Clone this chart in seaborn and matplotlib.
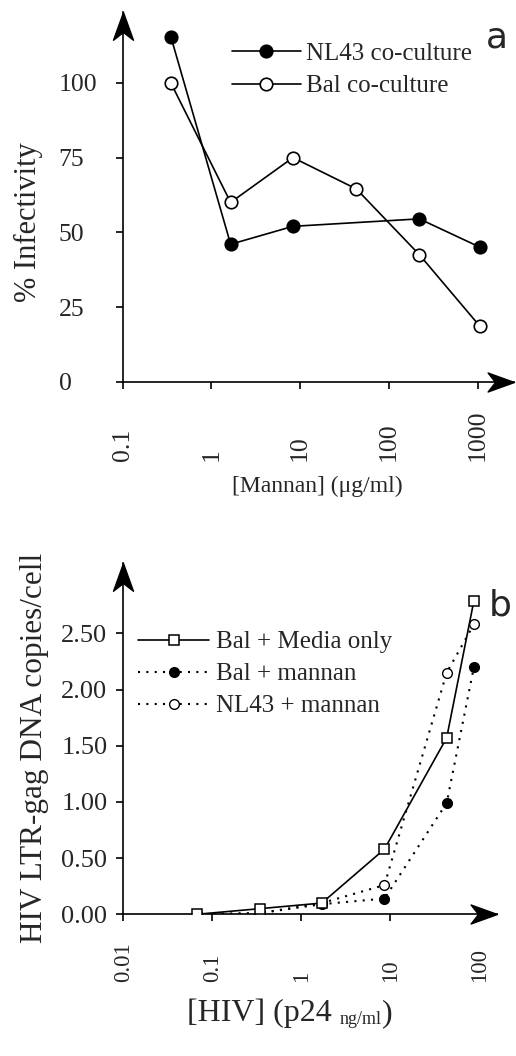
import numpy as np
import pandas as pd
import matplotlib
matplotlib.use("Agg")
import matplotlib.pyplot as plt
import seaborn as sns
from matplotlib.path import Path

# ---- data panel a ----
mannan_nl43 = [0.35, 1.65, 8.3, 220, 1060]
infect_nl43 = [115.5, 46, 52, 54.5, 45]
mannan_bal = [0.35, 1.65, 8.3, 43, 220, 1060]
infect_bal = [100, 60, 75, 64.5, 42.5, 18.5]
a_xticks = [0.1, 1, 10, 100, 1000]
a_xticklabels = ["0.1", "1", "10", "100", "1000"]
a_yticks = [0, 25, 50, 75, 100]
a_yticklabels = ["0", "25", "50", "75", "100"]

# ---- data panel b ----
hiv_p24 = [0.067, 0.34, 1.7, 8.6, 43, 87]
dna_bal_media = [0.0, 0.05, 0.10, 0.58, 1.57, 2.79]
dna_bal_mannan = [0.0, 0.01, 0.09, 0.14, 0.99, 2.20]
dna_nl43_mannan = [0.0, 0.01, 0.10, 0.26, 2.15, 2.58]
b_xticks = [0.01, 0.1, 1, 10, 100]
b_xticklabels = ["0.01", "0.1", "1", "10", "100"]
b_yticks = [0, 0.5, 1.0, 1.5, 2.0, 2.5]
b_yticklabels = ["0.00", "0.50", "1.00", "1.50", "2.00", "2.50"]

sns.set_style("ticks")
plt.rcParams["font.family"] = ["Liberation Serif", "DejaVu Serif"]

W, H = 516, 1056
fig = plt.figure(figsize=(W / 100, H / 100), dpi=100)

def px_axes(l, t, r, b):
    return fig.add_axes([l / W, 1 - b / H, (r - l) / W, (b - t) / H])

# arrowhead markers (tip at origin)
right_head = Path([(0, 0), (-1, 0.36), (-0.72, 0), (-1, -0.36), (0, 0)],
                  [Path.MOVETO, Path.LINETO, Path.LINETO, Path.LINETO, Path.CLOSEPOLY])
up_head = Path([(0, 0), (0.36, -1), (0, -0.72), (-0.36, -1), (0, 0)],
               [Path.MOVETO, Path.LINETO, Path.LINETO, Path.LINETO, Path.CLOSEPOLY])

def style_axes(ax, lw=1.2):
    sns.despine(ax=ax)
    for s in ("left", "bottom"):
        ax.spines[s].set_linewidth(lw)
        ax.spines[s].set_color("black")
    ax.plot([1], [0], marker=right_head, markersize=38, color="black",
            transform=ax.transAxes, clip_on=False, zorder=5)
    ax.plot([0], [1], marker=up_head, markersize=40, color="black",
            transform=ax.transAxes, clip_on=False, zorder=5)
    ax.minorticks_off()
    ax.tick_params(axis="both", which="major", direction="out", length=5,
                   width=1.2, color="black")

# ================= panel a =================
ax1 = px_axes(122.5, 12, 514, 381.7)
ax1.set_xscale("log")
sns.lineplot(x=mannan_nl43, y=infect_nl43, ax=ax1, sort=False, estimator=None,
             color="black", lw=1.2, marker="o", markersize=9,
             markerfacecolor="black", markeredgecolor="black", markeredgewidth=1.2,
             label="NL43 co-culture", zorder=3)
sns.lineplot(x=mannan_bal, y=infect_bal, ax=ax1, sort=False, estimator=None,
             color="black", lw=1.2, marker="o", markersize=9,
             markerfacecolor="white", markeredgecolor="black", markeredgewidth=1.2,
             label="Bal co-culture", zorder=3)
ax1.set_xlim(0.1, 10 ** ((514 - 121.7) / 89 - 1))
ax1.set_ylim(0, (381.7 - 12) / 2.988)
style_axes(ax1)
ax1.set_xticks(a_xticks)
ax1.set_xticklabels(a_xticklabels, rotation=90, va="bottom", fontsize=18.5)
ax1.tick_params(axis="x", pad=52)
ax1.set_yticks(a_yticks)
ax1.set_yticklabels(a_yticklabels, fontsize=18.5, ha="left")
ax1.tick_params(axis="y", pad=41)
ax1.set_ylabel("% Infectivity", fontsize=22)
ax1.yaxis.set_label_coords((43 - 122.5) / 391.5, (381.7 - 222) / 369.7)
ax1.set_xlabel("[Mannan] (\u03bcg/ml)", fontsize=17)
ax1.xaxis.set_label_coords((317.5 - 122.5) / 391.5, -(476 - 381.7) / 369.7)
leg1 = ax1.legend(loc="center left", bbox_to_anchor=(232 / W, 1 - 70 / H),
                  bbox_transform=fig.transFigure, frameon=False, fontsize=18,
                  handlelength=2.75, handletextpad=0.2, labelspacing=0.4,
                  borderpad=0, borderaxespad=0)
fig.text(497 / W, 1 - 37 / H, "a", fontsize=26, family="DejaVu Sans",
         ha="center", va="center")

# ================= panel b =================
ax2 = px_axes(123.3, 563.3, 497, 914.3)
ax2.set_xscale("log")
dot = (0, (1, 3))
sns.lineplot(x=hiv_p24, y=dna_bal_mannan, ax=ax2, sort=False, estimator=None,
             color="black", lw=1.5, linestyle=dot, marker="o", markersize=7,
             markerfacecolor="black", markeredgecolor="black", markeredgewidth=1.0,
             label="Bal + mannan", zorder=3)
sns.lineplot(x=hiv_p24, y=dna_nl43_mannan, ax=ax2, sort=False, estimator=None,
             color="black", lw=1.5, linestyle=dot, marker="o", markersize=7,
             markerfacecolor="white", markeredgecolor="black", markeredgewidth=1.0,
             label="NL43 + mannan", zorder=3)
sns.lineplot(x=hiv_p24, y=dna_bal_media, ax=ax2, sort=False, estimator=None,
             color="black", lw=1.2, marker="s", markersize=7.5,
             markerfacecolor="white", markeredgecolor="black", markeredgewidth=1.1,
             label="Bal + Media only", zorder=4)
ax2.set_xlim(0.01, 10 ** ((497 - 123.3) / 89 - 2))
ax2.set_ylim(0, (914.3 - 563.3) / 112.4)
style_axes(ax2)
ax2.set_xticks(b_xticks)
ax2.set_xticklabels(b_xticklabels, rotation=90, va="bottom", fontsize=16.5)
ax2.tick_params(axis="x", pad=43.5)
ax2.set_yticks(b_yticks)
ax2.set_yticklabels(b_yticklabels, fontsize=19)
ax2.tick_params(axis="y", pad=6.5)
ax2.set_ylabel("HIV LTR-gag DNA copies/cell", fontsize=22.5)
ax2.yaxis.set_label_coords((49 - 123.3) / 373.7, (914.3 - 748) / 351)
h, l = ax2.get_legend_handles_labels()
order = [l.index("Bal + Media only"), l.index("Bal + mannan"), l.index("NL43 + mannan")]
ax2.legend([h[i] for i in order], [l[i] for i in order],
           loc="center left", bbox_to_anchor=(138 / W, 1 - 674 / H),
           bbox_transform=fig.transFigure, frameon=False, fontsize=18,
           handlelength=2.85, handletextpad=0.25, labelspacing=0.38,
           borderpad=0, borderaxespad=0)
fig.text(500 / W, 1 - 605 / H, "b", fontsize=26, family="DejaVu Sans",
         ha="center", va="center")

# x label of panel b, with small unit text
t1 = fig.text(187 / W, 1 - 1021 / H, "[HIV] (p24 ", fontsize=23, ha="left", va="baseline")
t2 = ax2.annotate("ng/ml", xy=(1, 0), xycoords=t1, fontsize=13,
                  ha="left", va="bottom")
t3 = ax2.annotate(")", xy=(1, 0), xycoords=t2, fontsize=23,
                  ha="left", va="bottom")

fig.savefig("out.png", dpi=100)
